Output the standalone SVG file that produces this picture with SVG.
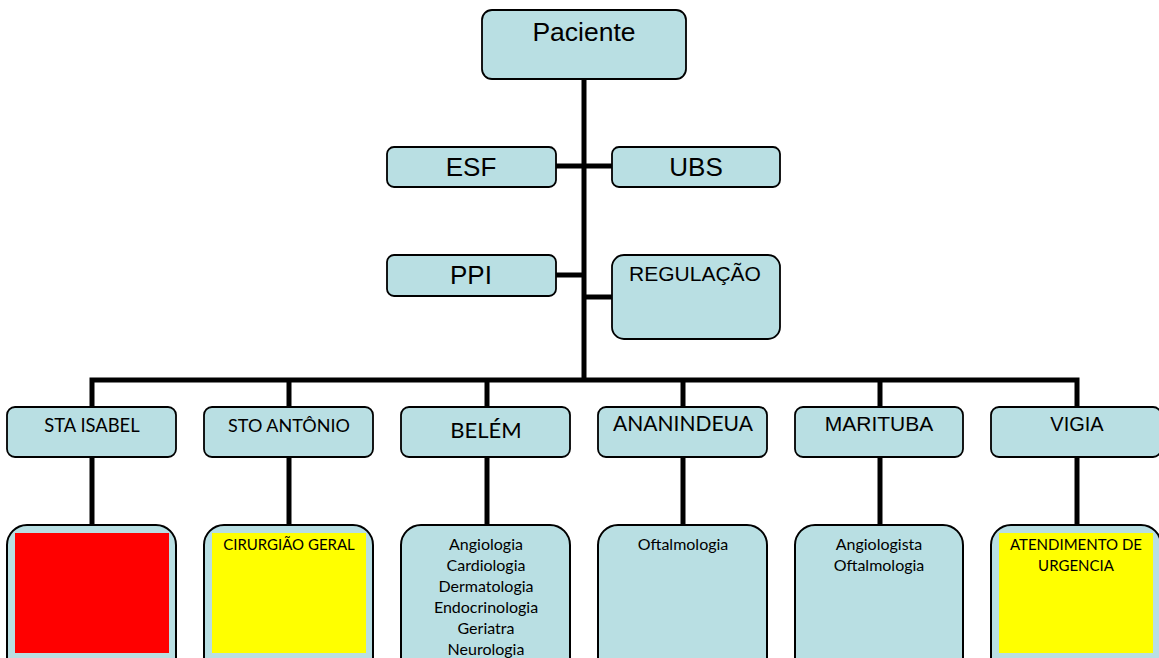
<svg xmlns="http://www.w3.org/2000/svg" width="1159" height="658" viewBox="0 0 1159 658">
<style>
.box{fill:#B9DFE3;stroke:#000;stroke-width:1.8}
.big{fill:#B9DFE3;stroke:#000;stroke-width:2}
.ar{font-family:"Liberation Sans",Arial,sans-serif;fill:#000;text-anchor:middle}
.cb{font-family:Lato,"Open Sans",sans-serif;fill:#000;text-anchor:middle}
.sm{font-size:16px}
.cp{font-size:15px}
.ln{stroke:#000;stroke-width:5;fill:none}
</style>
<rect width="1159" height="658" fill="#fff"/>
<g id="connectors">
<line class="ln" x1="584" y1="79" x2="584" y2="382"/>
<line class="ln" x1="556" y1="166" x2="612" y2="166"/>
<line class="ln" x1="556" y1="275" x2="584" y2="275"/>
<line class="ln" x1="584" y1="297" x2="612" y2="297"/>
<polyline class="ln" points="92,407 92,380 1077,380 1077,407"/>
<line class="ln" x1="289" y1="380" x2="289" y2="407"/>
<line class="ln" x1="487" y1="380" x2="487" y2="407"/>
<line class="ln" x1="683" y1="380" x2="683" y2="407"/>
<line class="ln" x1="880" y1="380" x2="880" y2="407"/>
<line class="ln" x1="92" y1="457" x2="92" y2="525"/>
<line class="ln" x1="289" y1="457" x2="289" y2="525"/>
<line class="ln" x1="487" y1="457" x2="487" y2="525"/>
<line class="ln" x1="683" y1="457" x2="683" y2="525"/>
<line class="ln" x1="880" y1="457" x2="880" y2="525"/>
<line class="ln" x1="1077" y1="457" x2="1077" y2="525"/>
</g>
<g id="paciente"><rect class="box" x="482" y="10" width="204" height="69" rx="10"/><text class="ar" x="584" y="41" font-size="26.5">Paciente</text></g>
<g id="esf"><rect class="box" x="387" y="147" width="169" height="40" rx="7"/><text class="ar" x="471" y="176" font-size="26">ESF</text></g>
<g id="ubs"><rect class="box" x="612" y="147" width="168" height="40" rx="7"/><text class="ar" x="696" y="176" font-size="26">UBS</text></g>
<g id="ppi"><rect class="box" x="387" y="255" width="169" height="41" rx="7"/><text class="ar" x="471" y="284" font-size="26">PPI</text></g>
<g id="regulacao"><rect class="box" x="612" y="255" width="168" height="84" rx="12"/><text class="ar" x="695" y="281" font-size="21">REGULAÇÃO</text></g>
<g id="sta-isabel"><rect class="box" x="7" y="407" width="169" height="50" rx="8"/><text class="cb" x="92" y="432" font-size="18.4">STA ISABEL</text></g>
<g id="sto-antonio"><rect class="box" x="204" y="407" width="169" height="50" rx="8"/><text class="cb" x="289" y="432" font-size="18">STO ANTÔNIO</text></g>
<g id="belem"><rect class="box" x="401" y="407" width="169" height="50" rx="8"/><text class="cb" x="486" y="438" font-size="22">BELÉM</text></g>
<g id="ananindeua"><rect class="box" x="598" y="407" width="169" height="50" rx="8"/><text class="cb" x="683" y="431" font-size="21">ANANINDEUA</text></g>
<g id="marituba"><rect class="box" x="795" y="407" width="168" height="50" rx="8"/><text class="ar" x="879" y="431" font-size="21">MARITUBA</text></g>
<g id="vigia"><rect class="box" x="991" y="407" width="170" height="50" rx="8"/><text class="ar" x="1077" y="431" font-size="20">VIGIA</text></g>
<g id="sta-isabel-detail"><rect class="big" x="7" y="525" width="169" height="160" rx="20"/><rect x="15" y="533" width="154" height="120" fill="#FF0000"/></g>
<g id="sto-antonio-detail"><rect class="big" x="204" y="525" width="169" height="160" rx="20"/><rect x="212" y="533" width="154" height="120" fill="#FFFF00"/><text class="cb cp" x="289" y="550">CIRURGIÃO GERAL</text></g>
<g id="belem-detail"><rect class="big" x="401" y="525" width="169" height="160" rx="20"/>
<text class="cb sm" x="486" y="550">Angiologia</text>
<text class="cb sm" x="486" y="571">Cardiologia</text>
<text class="cb sm" x="486" y="592">Dermatologia</text>
<text class="cb sm" x="486" y="613">Endocrinologia</text>
<text class="cb sm" x="486" y="634">Geriatra</text>
<text class="cb sm" x="486" y="655">Neurologia</text></g>
<g id="ananindeua-detail"><rect class="big" x="598" y="525" width="169" height="160" rx="20"/><text class="cb sm" x="683" y="550">Oftalmologia</text></g>
<g id="marituba-detail"><rect class="big" x="795" y="525" width="168" height="160" rx="20"/><text class="cb sm" x="879" y="550">Angiologista</text><text class="cb sm" x="879" y="571">Oftalmologia</text></g>
<g id="vigia-detail"><rect class="big" x="991" y="525" width="170" height="160" rx="20"/><rect x="999" y="533" width="154" height="120" fill="#FFFF00"/><text class="cb cp" x="1076" y="550">ATENDIMENTO DE</text><text class="cb cp" x="1076" y="571">URGENCIA</text></g>
</svg>
